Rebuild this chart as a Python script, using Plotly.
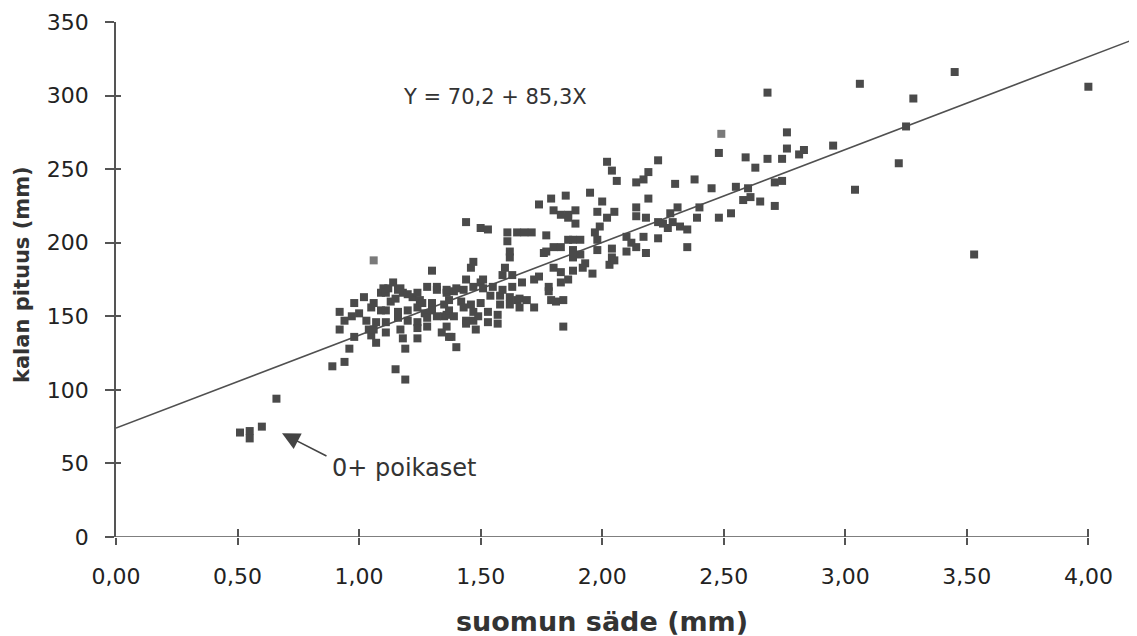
import plotly.graph_objects as go

# scale radius (mm) vs fish length (mm)
juvenile_pts = [(0.51, 71), (0.55, 72), (0.55, 67), (0.60, 75), (0.66, 94)]

left_pts = [
    (0.89, 116), (0.94, 119), (0.96, 128), (0.92, 141), (0.98, 136), (0.94, 147),
    (0.92, 153), (0.98, 159), (1.00, 152), (0.97, 150), (1.02, 163),
]

cluster_pts = [
    (1.03, 147), (1.04, 141), (1.05, 137), (1.05, 156), (1.06, 159), (1.06, 141),
    (1.07, 146), (1.07, 132), (1.09, 154), (1.09, 166), (1.10, 169), (1.11, 166),
    (1.12, 169), (1.11, 154), (1.11, 146), (1.11, 139), (1.13, 160), (1.14, 173),
    (1.15, 114), (1.15, 162), (1.16, 168), (1.16, 149), (1.16, 153), (1.17, 141),
    (1.17, 169), (1.18, 166), (1.18, 135), (1.19, 107), (1.19, 128), (1.20, 165),
    (1.20, 147), (1.20, 154), (1.22, 163), (1.24, 166), (1.24, 156), (1.24, 146),
    (1.24, 142), (1.24, 135), (1.25, 161), (1.26, 159), (1.27, 152), (1.28, 170),
    (1.28, 149), (1.28, 143), (1.30, 181), (1.30, 159), (1.30, 154), (1.32, 170),
    (1.32, 168), (1.32, 150), (1.34, 139), (1.35, 158), (1.35, 150), (1.36, 166),
    (1.36, 151), (1.36, 168), (1.36, 143), (1.37, 136), (1.37, 161), (1.37, 154),
    (1.38, 136), (1.39, 167), (1.39, 150), (1.40, 129), (1.40, 169), (1.42, 160),
    (1.43, 168), (1.43, 156), (1.44, 175), (1.44, 147), (1.44, 145), (1.46, 183),
    (1.46, 158), (1.47, 187), (1.47, 170), (1.47, 153), (1.47, 147), (1.48, 141),
    (1.49, 150), (1.50, 173), (1.50, 159), (1.51, 175), (1.51, 169), (1.53, 153),
    (1.53, 146), (1.54, 164), (1.55, 170), (1.57, 151), (1.57, 145), (1.58, 164),
    (1.58, 158), (1.59, 178), (1.59, 168), (1.60, 183), (1.62, 163), (1.62, 158),
    (1.63, 170), (1.63, 178), (1.65, 161), (1.66, 162), (1.66, 156), (1.67, 173),
    (1.69, 161), (1.72, 175), (1.72, 156), (1.74, 177), (1.78, 170), (1.78, 167),
    (1.79, 161), (1.80, 183), (1.81, 160), (1.83, 180), (1.83, 173), (1.84, 161),
    (1.84, 143), (1.86, 175),
]

upper_pts = [
    (1.44, 214), (1.50, 210), (1.53, 209), (1.61, 207), (1.61, 201), (1.62, 194),
    (1.62, 190), (1.65, 207), (1.68, 207), (1.71, 207), (1.74, 226), (1.76, 193),
    (1.77, 205), (1.77, 194), (1.79, 230), (1.80, 222), (1.80, 197), (1.83, 219),
    (1.83, 197), (1.85, 232), (1.86, 219), (1.86, 202), (1.86, 217), (1.88, 202),
    (1.88, 195), (1.88, 190), (1.88, 181), (1.89, 222), (1.89, 213), (1.91, 202),
    (1.91, 192), (1.92, 183), (1.93, 186), (1.95, 234), (1.96, 179), (1.97, 207),
    (1.98, 221), (1.98, 202), (1.98, 195), (1.99, 211), (2.00, 228), (2.02, 255),
    (2.02, 217), (2.03, 185), (2.04, 249), (2.04, 196), (2.04, 190), (2.05, 221),
    (2.05, 188), (2.06, 242), (2.10, 204), (2.10, 194), (2.12, 200), (2.14, 241),
    (2.14, 224), (2.14, 218), (2.14, 197), (2.17, 243), (2.17, 204), (2.18, 217),
    (2.18, 193), (2.19, 248), (2.19, 230), (2.23, 256), (2.23, 214), (2.23, 203),
    (2.25, 213), (2.27, 210), (2.28, 220), (2.29, 214), (2.30, 240), (2.31, 224),
    (2.32, 211), (2.35, 209), (2.35, 197), (2.38, 243), (2.39, 217), (2.40, 224),
]

large_pts = [
    (2.45, 237), (2.48, 261), (2.48, 217), (2.53, 220), (2.55, 238), (2.58, 229),
    (2.59, 258), (2.60, 237), (2.61, 231), (2.63, 251), (2.65, 228), (2.68, 302),
    (2.68, 257), (2.71, 241), (2.71, 225), (2.74, 257), (2.74, 242), (2.76, 275),
    (2.76, 264), (2.81, 260), (2.83, 263), (2.95, 266), (3.04, 236), (3.06, 308),
    (3.22, 254), (3.25, 279), (3.28, 298), (3.45, 316), (3.53, 192), (4.00, 306),
]

# faint (washed out in the scan) points
faint_pts = [(1.06, 188), (2.49, 274)]

# regression line as drawn
reg_x = [0.0, 4.2]
reg_y = [74, 339]

x_ticks = [0, 0.5, 1.0, 1.5, 2.0, 2.5, 3.0, 3.5, 4.0]
x_tick_labels = ["0,00", "0,50", "1,00", "1,50", "2,00", "2,50", "3,00", "3,50", "4,00"]
y_ticks = [0, 50, 100, 150, 200, 250, 300, 350]

all_pts = juvenile_pts + left_pts + cluster_pts + upper_pts + large_pts
pts_x = [p[0] for p in all_pts]
pts_y = [p[1] for p in all_pts]

FONT = "DejaVu Sans"
INK = "#4a4a4a"

fig = go.Figure()
fig.add_trace(go.Scatter(x=reg_x, y=reg_y, mode="lines",
                         line=dict(color="#505050", width=1.6), hoverinfo="skip"))
fig.add_trace(go.Scatter(x=pts_x, y=pts_y, mode="markers",
                         marker=dict(symbol="square", size=8, color=INK)))
fig.add_trace(go.Scatter(x=[p[0] for p in faint_pts], y=[p[1] for p in faint_pts],
                         mode="markers",
                         marker=dict(symbol="square", size=8, color="#7a7a7a")))
# invisible trace so the overlay axes (inner half of crossing ticks) are drawn
fig.add_trace(go.Scatter(x=[0], y=[0], xaxis="x2", yaxis="y2", mode="markers",
                         marker=dict(opacity=0), hoverinfo="skip"))

axis_common = dict(showgrid=False, zeroline=False, tickcolor="#555", tickwidth=1.5,
                   tickfont=dict(family=FONT, size=22, color="#222"))

# page body has an 8px margin, so the figure is 8px smaller than the window
fig.update_layout(
    width=1129, height=628,
    margin=dict(l=108, r=0, t=14, b=99),
    paper_bgcolor="white", plot_bgcolor="white",
    showlegend=False,
    xaxis=dict(range=[0, 4.2], tickvals=x_ticks, ticktext=x_tick_labels,
               ticks="outside", ticklen=7, showline=False, ticklabelstandoff=13,
               **axis_common),
    yaxis=dict(range=[0, 350], tickvals=y_ticks, ticks="outside", ticklen=9,
               showline=True, linecolor="#555", linewidth=1.5, ticklabelstandoff=12,
               **axis_common),
    xaxis2=dict(range=[0, 4.2], tickvals=x_ticks, ticks="inside", ticklen=8,
                showticklabels=False, overlaying="x", anchor="y2",
                showgrid=False, zeroline=False, showline=False,
                tickcolor="#555", tickwidth=1.5),
    yaxis2=dict(range=[0, 350], tickvals=y_ticks, ticks="inside", ticklen=5,
                showticklabels=False, overlaying="y", anchor="x2",
                showgrid=False, zeroline=False, showline=False,
                tickcolor="#555", tickwidth=1.5),
)

# x axis line stops at 4,00 while the regression line runs on
fig.add_shape(type="line", xref="x", yref="y", x0=0, x1=4.0, y0=0, y1=0,
              line=dict(color="#555", width=1.5))

# axis titles
fig.add_annotation(x=2.0, y=0, xref="x", yref="paper", yshift=-84,
                   xanchor="center", yanchor="middle",
                   text="<b>suomun säde (mm)</b>", showarrow=False,
                   font=dict(family=FONT, size=27, color="#333"))
fig.add_annotation(x=0, y=178, xref="paper", yref="y", xshift=-94, textangle=-90,
                   xanchor="center", yanchor="middle",
                   text="<b>kalan pituus (mm)</b>", showarrow=False,
                   font=dict(family=FONT, size=21, color="#333"))

fig.add_annotation(x=1.56, y=299, xref="x", yref="y", text="Y = 70,2 + 85,3X",
                   showarrow=False, font=dict(family=FONT, size=21, color="#333"))
fig.add_annotation(x=0.88, y=47, xref="x", yref="y", text="0+ poikaset",
                   showarrow=False, xanchor="left",
                   font=dict(family=FONT, size=24, color="#333"))
fig.add_annotation(x=0.683, y=70.5, xref="x", yref="y", ax=0.872, ay=54.5,
                   axref="x", ayref="y", text="", showarrow=True,
                   arrowhead=2, arrowsize=2.2, arrowwidth=1.6, arrowcolor="#444")

fig.write_html("out.html")
